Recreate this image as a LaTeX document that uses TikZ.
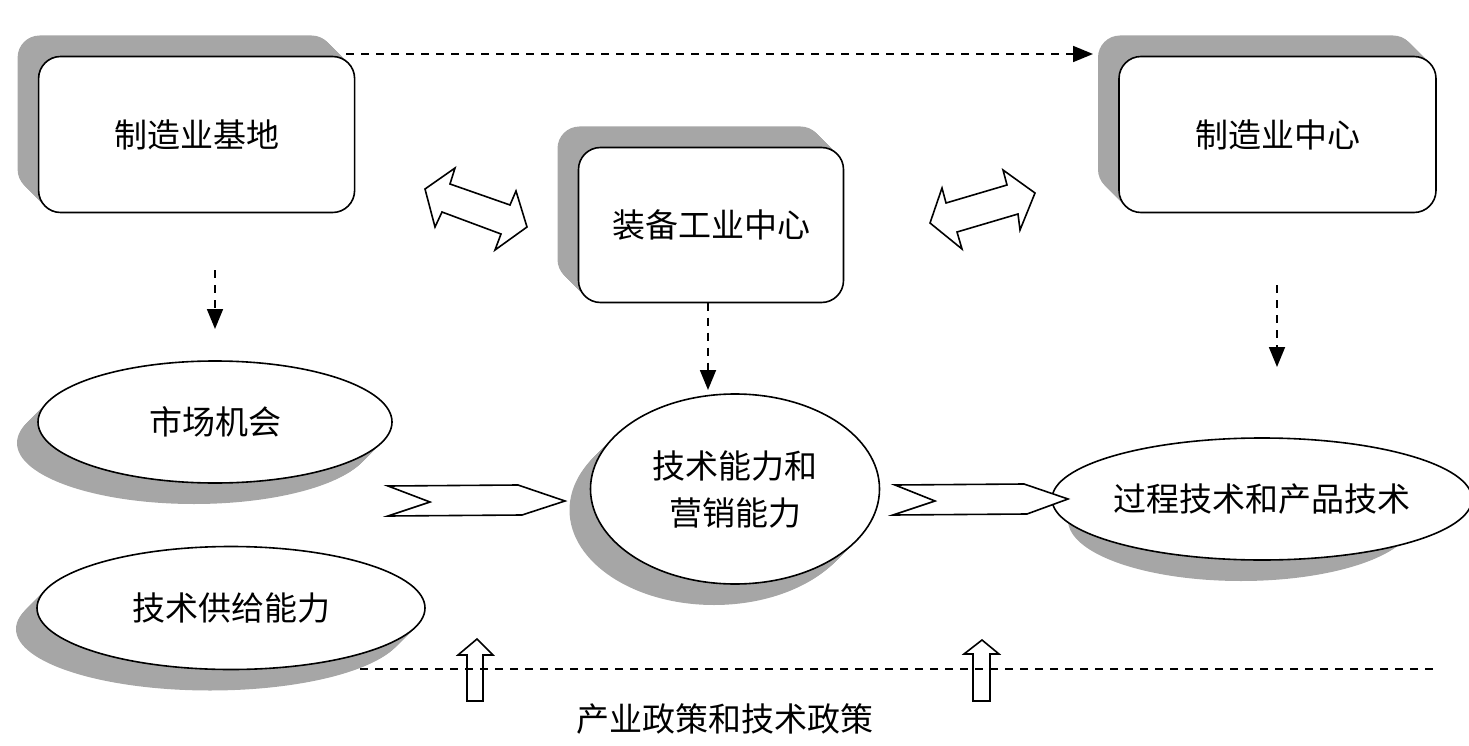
\documentclass[tikz,border=0pt]{standalone}
\usepackage{fontspec}
\setmainfont{Noto Sans CJK SC}
\usetikzlibrary{arrows.meta,shapes.geometric,backgrounds}
\definecolor{shadowgray}{RGB}{166,166,166}
\begin{document}
\begin{tikzpicture}[x=1pt,y=-1pt,
  txt/.style={font=\fontsize{33}{47}\selectfont, align=center},
  box/.style={txt, draw=black, line width=1.6pt, fill=white, rounded corners=22pt, outer sep=0pt, inner sep=0pt},
  ell/.style={txt, ellipse, draw=black, line width=1.6pt, fill=white, outer sep=0pt, inner sep=0pt},
  dasharrow/.style={line width=1.8pt, dash pattern=on 8pt off 7pt, -{Triangle[length=20pt,width=16pt]}},
  dashline/.style={line width=1.8pt, dash pattern=on 8pt off 7pt},
  hollow/.style={draw=black, line width=1.6pt, line join=miter, fill=white},
  hollowopen/.style={draw=black, line width=1.6pt, line join=miter}
]
\useasboundingbox (0,0) rectangle (1469,746);

% boxes
\node[box, minimum width=316pt, minimum height=156pt] (base) at (196.6,134.5) {制造业基地};
\node[box, minimum width=265pt, minimum height=155pt] (equip) at (711,225) {装备工业中心};
\node[box, minimum width=317pt, minimum height=156pt] (center) at (1277.5,134.5) {制造业中心};

% ellipses
\node[ell, minimum width=354pt, minimum height=122pt] (market) at (215,422) {市场机会};
\node[ell, minimum width=388pt, minimum height=123pt] (supply) at (231,608) {技术供给能力};
\node[ell, minimum width=289pt, minimum height=190pt] (ability) at (735,489) {技术能力和\\营销能力};
\node[ell, minimum width=346pt, minimum height=122pt] (process) at (1262,499) {过程技术和产品技术};

\begin{pgfonlayer}{background}
  \foreach \n in {base,equip,center}{
    \foreach \i in {0,1,...,21}{
      \fill[shadowgray, rounded corners=22pt] ([shift={(-\i,-\i)}]\n.north west) rectangle ([shift={(-\i,-\i)}]\n.south east);
    }
  }
  \foreach \n/\rx/\ry in {market/177/61, supply/194/61.5, ability/144.5/95, process/173/61}{
    \foreach \i in {0,1,...,21}{
      \fill[shadowgray] ([shift={(-\i,\i)}]\n.center) ellipse [x radius=\rx, y radius=\ry];
    }
  }
\end{pgfonlayer}

% dashed connectors
\coordinate (topS) at (346,54);
\coordinate (topE) at (1093,54);
\draw[dasharrow] (topS) -- (topE);

\coordinate (d1s) at (215,270);
\coordinate (d1e) at (215,329);
\draw[dasharrow] (d1s) -- (d1e);

\coordinate (d2e) at (708,390);
\draw[dasharrow] (equip.south -| d2e) -- (d2e);

\coordinate (d3s) at (1277,285);
\coordinate (d3e) at (1277,367);
\draw[dasharrow] (d3s) -- (d3e);

% double arrows
\draw[hollow] (425,189) -- (455,168) -- (450,184) -- (510,205) -- (516,191) -- (527,227) -- (495,250) -- (501,234) -- (442,212) -- (435,227) -- cycle;
\draw[hollow] (930,223) -- (942,188) -- (946,203) -- (1007,185) -- (1003,170) -- (1035,193) -- (1020,230) -- (1018,214) -- (957,232) -- (962,249) -- cycle;

% chevrons
\draw[hollow] (388,486) -- (518,485) -- (565,501) -- (522,515) -- (388,516) -- (430,502) -- cycle;
\draw[hollow] (895,485) -- (1024,484) -- (1068,499) -- (1027,514) -- (893,515) -- (935,501) -- cycle;

% bottom dashed line
\coordinate (bl) at (360,669);
\coordinate (br) at (1437,669);
\draw[dashline] (bl) -- (br);

% up arrows
\draw[hollowopen] (477,639) -- (493,655) -- (483,655) -- (483,701) -- (467,701) -- (467,655) -- (458,655) -- cycle;
\draw[hollowopen] (982,640) -- (999,654) -- (990,654) -- (990,701) -- (973,701) -- (973,654) -- (964,654) -- cycle;

% policy label
\node[txt] (policy) at (725,719) {产业政策和技术政策};
\end{tikzpicture}
\end{document}
